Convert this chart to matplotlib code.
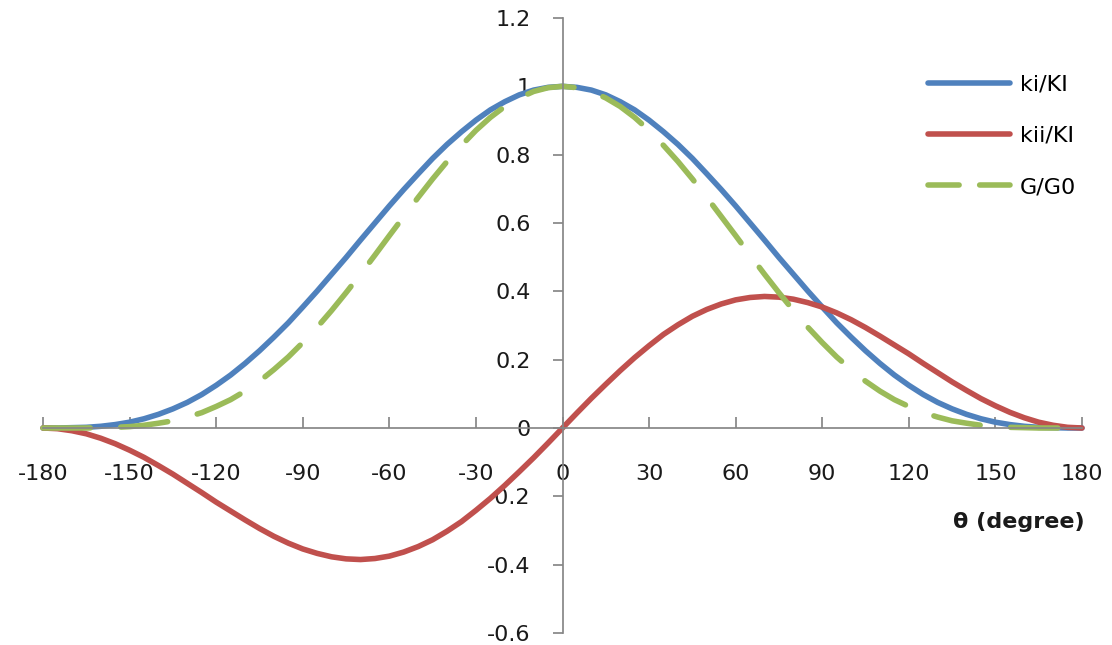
import matplotlib
matplotlib.use("Agg")
import matplotlib.pyplot as plt

# angle values (degree), every 5 degrees
theta = list(range(-180, 181, 5))

# curves
ki_KI = [0.000, 0.000, 0.001, 0.002, 0.005, 0.010, 0.017, 0.027, 0.040, 0.056,
         0.075, 0.098, 0.125, 0.155, 0.189, 0.226, 0.266, 0.308, 0.354, 0.401,
         0.450, 0.499, 0.550, 0.600, 0.650, 0.698, 0.744, 0.789, 0.830, 0.867,
         0.901, 0.931, 0.955, 0.975, 0.989, 0.997,
         1.000,
         0.997, 0.989, 0.975, 0.955, 0.931, 0.901, 0.867, 0.830, 0.789, 0.744,
         0.698, 0.650, 0.600, 0.550, 0.499, 0.450, 0.401, 0.354, 0.308, 0.266,
         0.226, 0.189, 0.155, 0.125, 0.098, 0.075, 0.056, 0.040, 0.027, 0.017,
         0.010, 0.005, 0.002, 0.001, 0.000, 0.000]
kii_KI = [0.000, -0.002, -0.008, -0.017, -0.030, -0.046, -0.065, -0.086, -0.110, -0.135,
          -0.162, -0.189, -0.217, -0.243, -0.269, -0.294, -0.317, -0.337, -0.354, -0.367,
          -0.377, -0.383, -0.385, -0.382, -0.375, -0.363, -0.347, -0.327, -0.302, -0.274,
          -0.241, -0.206, -0.168, -0.128, -0.087, -0.044,
          0.000,
          0.044, 0.087, 0.128, 0.168, 0.206, 0.241, 0.274, 0.302, 0.327, 0.347,
          0.363, 0.375, 0.382, 0.385, 0.383, 0.377, 0.367, 0.354, 0.337, 0.317,
          0.294, 0.269, 0.243, 0.217, 0.189, 0.162, 0.135, 0.110, 0.086, 0.065,
          0.046, 0.030, 0.017, 0.008, 0.002, 0.000]
G_G0 = [0.000, 0.000, 0.000, 0.000, 0.001, 0.002, 0.004, 0.008, 0.014, 0.021,
        0.032, 0.045, 0.063, 0.083, 0.108, 0.137, 0.171, 0.208, 0.250, 0.295,
        0.344, 0.396, 0.450, 0.506, 0.563, 0.619, 0.675, 0.729, 0.780, 0.827,
        0.871, 0.909, 0.941, 0.966, 0.985, 0.996,
        1.000,
        0.996, 0.985, 0.966, 0.941, 0.909, 0.871, 0.827, 0.780, 0.729, 0.675,
        0.619, 0.563, 0.506, 0.450, 0.396, 0.344, 0.295, 0.250, 0.208, 0.171,
        0.137, 0.108, 0.083, 0.063, 0.045, 0.032, 0.021, 0.014, 0.008, 0.004,
        0.002, 0.001, 0.000, 0.000, 0.000, 0.000]

x_ticks = list(range(-180, 181, 30))
y_ticks = [-0.6, -0.4, -0.2, 0, 0.2, 0.4, 0.6, 0.8, 1.0, 1.2]

plt.rcParams['font.family'] = ['DejaVu Sans']
plt.rcParams['axes.unicode_minus'] = False

fig = plt.figure(figsize=(11.12, 6.45), dpi=100)
ax = fig.add_axes([0.0387, 0.0186, 0.9343, 0.9535])

lw = 4
ax.plot(theta, ki_KI, color='#4F81BD', lw=lw, label='ki/KI', clip_on=False,
        solid_capstyle='round')
ax.plot(theta, kii_KI, color='#C0504D', lw=lw, label='kii/KI', clip_on=False,
        solid_capstyle='round')
ax.plot(theta, G_G0, color='#9BBB59', lw=lw, label='G/G0', clip_on=False,
        dashes=(8.5, 5.5), dash_capstyle='round')

ax.set_xlim(-180, 180)
ax.set_ylim(-0.6, 1.2)
ax.set_xticks(x_ticks)
ax.set_yticks(y_ticks)
ax.yaxis.set_major_formatter(plt.FuncFormatter(lambda v, p: '%g' % round(v, 1)))

# axes crossing at origin
axis_col = '#868686'
ax.spines['left'].set_position(('data', 0))
ax.spines['bottom'].set_position(('data', 0))
ax.spines['top'].set_visible(False)
ax.spines['right'].set_visible(False)
for s in ['left', 'bottom']:
    ax.spines[s].set_color(axis_col)
    ax.spines[s].set_linewidth(1.25)

ax.tick_params(axis='x', direction='in', length=8, width=1.25, color=axis_col,
               pad=26, labelsize=16, labelcolor='#1a1a1a')
ax.tick_params(axis='y', direction='out', length=7, width=1.25, color=axis_col,
               pad=16, labelsize=16, labelcolor='#1a1a1a')

ax.text(1.003, 0.18, 'θ (degree)', transform=ax.transAxes, ha='right', va='center',
        fontsize=16, fontweight='bold', color='#1a1a1a')

leg = ax.legend(loc='upper left', bbox_to_anchor=(0.8345, 0.884), bbox_transform=fig.transFigure,
                frameon=False, fontsize=16, handlelength=3.7, handletextpad=0.45,
                labelspacing=1.4, borderpad=0, borderaxespad=0)
# shorter dash pattern in the legend key, like the original
leg.get_lines()[2].set_dashes((5.6, 3.7))

fig.savefig('out.png', dpi=100)
